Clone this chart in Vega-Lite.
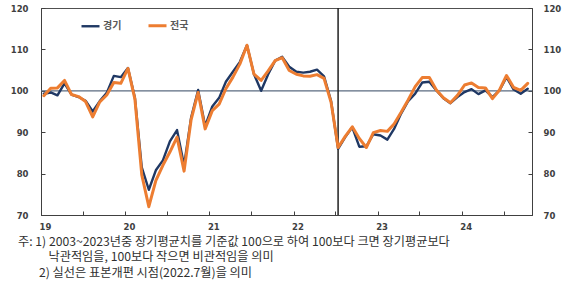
{
  "$schema": "https://vega.github.io/schema/vega-lite/v6.json",
  "width": 491,
  "height": 207,
  "autosize": {"type": "none"},
  "padding": {"left": 41, "top": 8, "right": 38, "bottom": 67},
  "background": "white",
  "config": {
    "view": {"stroke": "#505050", "strokeWidth": 1},
    "axis": {
      "labelFont": "DejaVu Sans",
      "labelFontWeight": "bold",
      "labelFontSize": 8.5,
      "labelColor": "#404040",
      "domainColor": "#404040",
      "tickColor": "#404040",
      "tickSize": -4,
      "grid": false,
      "title": null
    }
  },
  "title": {
    "text": [
      "주: 1) 2003~2023년중 장기평균치를 기준값 100으로 하여 100보다 크면 장기평균보다",
      "\u200b\u3000\u3000\u2002낙관적임을, 100보다 작으면 비관적임을 의미",
      "\u200b\u3000\u2002 2) 실선은 표본개편 시점(2022.7월)을 의미"
    ],
    "orient": "bottom",
    "anchor": "start",
    "frame": "group",
    "dx": -23,
    "offset": 5,
    "font": "Noto Sans CJK KR",
    "fontSize": 12.2,
    "fontWeight": "normal",
    "color": "#303030",
    "lineHeight": 15.5
  },
  "layer": [
    {
      "data": {"values": [{"v": 100}]},
      "mark": {"type": "rule", "color": "#5B6B80", "strokeWidth": 1.2},
      "encoding": {
        "y": {
          "field": "v",
          "type": "quantitative",
          "scale": {"domain": [70, 120], "nice": false, "zero": false},
          "axis": {"orient": "right", "values": [70, 80, 90, 100, 110, 120], "labelPadding": 15}
        }
      }
    },
    {
      "data": {"values": [{"d": "2022-07"}]},
      "mark": {"type": "rule", "color": "#202020", "strokeWidth": 1.5},
      "encoding": {
        "x": {
          "field": "d",
          "type": "temporal",
          "timeUnit": "yearmonth",
          "bandPosition": 0.4
        }
      }
    },
    {
      "data": {
        "values": [
          {"d": "2019-01", "r": "경기", "v": 99.3}, {"d": "2019-02", "r": "경기", "v": 99.6}, {"d": "2019-03", "r": "경기", "v": 98.9}, {"d": "2019-04", "r": "경기", "v": 101.8},
          {"d": "2019-05", "r": "경기", "v": 99.1}, {"d": "2019-06", "r": "경기", "v": 98.5}, {"d": "2019-07", "r": "경기", "v": 97.6}, {"d": "2019-08", "r": "경기", "v": 95.0},
          {"d": "2019-09", "r": "경기", "v": 97.5}, {"d": "2019-10", "r": "경기", "v": 99.5}, {"d": "2019-11", "r": "경기", "v": 103.6}, {"d": "2019-12", "r": "경기", "v": 103.3},
          {"d": "2020-01", "r": "경기", "v": 105.5}, {"d": "2020-02", "r": "경기", "v": 98.3}, {"d": "2020-03", "r": "경기", "v": 81.5}, {"d": "2020-04", "r": "경기", "v": 76.1},
          {"d": "2020-05", "r": "경기", "v": 80.8}, {"d": "2020-06", "r": "경기", "v": 83.2}, {"d": "2020-07", "r": "경기", "v": 87.8}, {"d": "2020-08", "r": "경기", "v": 90.5},
          {"d": "2020-09", "r": "경기", "v": 82.0}, {"d": "2020-10", "r": "경기", "v": 93.5}, {"d": "2020-11", "r": "경기", "v": 100.2}, {"d": "2020-12", "r": "경기", "v": 91.5},
          {"d": "2021-01", "r": "경기", "v": 96.2}, {"d": "2021-02", "r": "경기", "v": 98.3}, {"d": "2021-03", "r": "경기", "v": 102.2}, {"d": "2021-04", "r": "경기", "v": 104.6},
          {"d": "2021-05", "r": "경기", "v": 107.0}, {"d": "2021-06", "r": "경기", "v": 111.0}, {"d": "2021-07", "r": "경기", "v": 104.0}, {"d": "2021-08", "r": "경기", "v": 100.0},
          {"d": "2021-09", "r": "경기", "v": 104.0}, {"d": "2021-10", "r": "경기", "v": 107.3}, {"d": "2021-11", "r": "경기", "v": 108.2}, {"d": "2021-12", "r": "경기", "v": 105.8},
          {"d": "2022-01", "r": "경기", "v": 104.6}, {"d": "2022-02", "r": "경기", "v": 104.4}, {"d": "2022-03", "r": "경기", "v": 104.6}, {"d": "2022-04", "r": "경기", "v": 105.1},
          {"d": "2022-05", "r": "경기", "v": 103.5}, {"d": "2022-06", "r": "경기", "v": 97.5}, {"d": "2022-07", "r": "경기", "v": 86.0}, {"d": "2022-08", "r": "경기", "v": 88.8},
          {"d": "2022-09", "r": "경기", "v": 91.2}, {"d": "2022-10", "r": "경기", "v": 86.5}, {"d": "2022-11", "r": "경기", "v": 86.6}, {"d": "2022-12", "r": "경기", "v": 89.5},
          {"d": "2023-01", "r": "경기", "v": 89.2}, {"d": "2023-02", "r": "경기", "v": 88.2}, {"d": "2023-03", "r": "경기", "v": 90.8}, {"d": "2023-04", "r": "경기", "v": 94.5},
          {"d": "2023-05", "r": "경기", "v": 97.5}, {"d": "2023-06", "r": "경기", "v": 99.3}, {"d": "2023-07", "r": "경기", "v": 102.0}, {"d": "2023-08", "r": "경기", "v": 102.2},
          {"d": "2023-09", "r": "경기", "v": 100.1}, {"d": "2023-10", "r": "경기", "v": 98.2}, {"d": "2023-11", "r": "경기", "v": 97.0}, {"d": "2023-12", "r": "경기", "v": 98.5},
          {"d": "2024-01", "r": "경기", "v": 99.7}, {"d": "2024-02", "r": "경기", "v": 100.4}, {"d": "2024-03", "r": "경기", "v": 99.2}, {"d": "2024-04", "r": "경기", "v": 100.1},
          {"d": "2024-05", "r": "경기", "v": 98.5}, {"d": "2024-06", "r": "경기", "v": 100.1}, {"d": "2024-07", "r": "경기", "v": 103.3}, {"d": "2024-08", "r": "경기", "v": 100.3},
          {"d": "2024-09", "r": "경기", "v": 99.3}, {"d": "2024-10", "r": "경기", "v": 100.5},
          {"d": "2019-01", "r": "전국", "v": 98.8}, {"d": "2019-02", "r": "전국", "v": 100.6}, {"d": "2019-03", "r": "전국", "v": 100.7}, {"d": "2019-04", "r": "전국", "v": 102.5},
          {"d": "2019-05", "r": "전국", "v": 99.1}, {"d": "2019-06", "r": "전국", "v": 98.6}, {"d": "2019-07", "r": "전국", "v": 97.4}, {"d": "2019-08", "r": "전국", "v": 93.7},
          {"d": "2019-09", "r": "전국", "v": 97.3}, {"d": "2019-10", "r": "전국", "v": 99.0}, {"d": "2019-11", "r": "전국", "v": 102.0}, {"d": "2019-12", "r": "전국", "v": 101.8},
          {"d": "2020-01", "r": "전국", "v": 105.4}, {"d": "2020-02", "r": "전국", "v": 98.0}, {"d": "2020-03", "r": "전국", "v": 79.7}, {"d": "2020-04", "r": "전국", "v": 72.0},
          {"d": "2020-05", "r": "전국", "v": 78.3}, {"d": "2020-06", "r": "전국", "v": 82.0}, {"d": "2020-07", "r": "전국", "v": 85.2}, {"d": "2020-08", "r": "전국", "v": 88.8},
          {"d": "2020-09", "r": "전국", "v": 80.6}, {"d": "2020-10", "r": "전국", "v": 93.0}, {"d": "2020-11", "r": "전국", "v": 99.6}, {"d": "2020-12", "r": "전국", "v": 90.8},
          {"d": "2021-01", "r": "전국", "v": 95.2}, {"d": "2021-02", "r": "전국", "v": 96.8}, {"d": "2021-03", "r": "전국", "v": 100.5}, {"d": "2021-04", "r": "전국", "v": 103.3},
          {"d": "2021-05", "r": "전국", "v": 106.5}, {"d": "2021-06", "r": "전국", "v": 111.0}, {"d": "2021-07", "r": "전국", "v": 104.0}, {"d": "2021-08", "r": "전국", "v": 102.5},
          {"d": "2021-09", "r": "전국", "v": 104.8}, {"d": "2021-10", "r": "전국", "v": 107.3}, {"d": "2021-11", "r": "전국", "v": 108.0}, {"d": "2021-12", "r": "전국", "v": 104.9},
          {"d": "2022-01", "r": "전국", "v": 104.0}, {"d": "2022-02", "r": "전국", "v": 103.6}, {"d": "2022-03", "r": "전국", "v": 103.5}, {"d": "2022-04", "r": "전국", "v": 103.9},
          {"d": "2022-05", "r": "전국", "v": 103.0}, {"d": "2022-06", "r": "전국", "v": 97.2}, {"d": "2022-07", "r": "전국", "v": 86.3}, {"d": "2022-08", "r": "전국", "v": 89.0},
          {"d": "2022-09", "r": "전국", "v": 91.3}, {"d": "2022-10", "r": "전국", "v": 88.5}, {"d": "2022-11", "r": "전국", "v": 86.3}, {"d": "2022-12", "r": "전국", "v": 89.9},
          {"d": "2023-01", "r": "전국", "v": 90.4}, {"d": "2023-02", "r": "전국", "v": 90.2}, {"d": "2023-03", "r": "전국", "v": 92.0}, {"d": "2023-04", "r": "전국", "v": 94.8},
          {"d": "2023-05", "r": "전국", "v": 97.8}, {"d": "2023-06", "r": "전국", "v": 101.0}, {"d": "2023-07", "r": "전국", "v": 103.2}, {"d": "2023-08", "r": "전국", "v": 103.2},
          {"d": "2023-09", "r": "전국", "v": 100.2}, {"d": "2023-10", "r": "전국", "v": 98.3}, {"d": "2023-11", "r": "전국", "v": 97.1}, {"d": "2023-12", "r": "전국", "v": 98.9},
          {"d": "2024-01", "r": "전국", "v": 101.4}, {"d": "2024-02", "r": "전국", "v": 101.9}, {"d": "2024-03", "r": "전국", "v": 100.8}, {"d": "2024-04", "r": "전국", "v": 100.7},
          {"d": "2024-05", "r": "전국", "v": 98.1}, {"d": "2024-06", "r": "전국", "v": 100.2}, {"d": "2024-07", "r": "전국", "v": 103.7}, {"d": "2024-08", "r": "전국", "v": 100.8},
          {"d": "2024-09", "r": "전국", "v": 100.1}, {"d": "2024-10", "r": "전국", "v": 101.8}
        ]
      },
      "mark": {"type": "line", "strokeJoin": "round", "strokeCap": "round"},
      "encoding": {
        "x": {
          "field": "d",
          "type": "temporal",
          "timeUnit": "yearmonth",
          "bandPosition": 0.4,
          "scale": {"domain": [{"year": 2019, "month": 1, "date": 1}, {"year": 2024, "month": 11, "date": 1}], "nice": false},
          "axis": {
            "tickCount": {"interval": "month", "step": 6},
            "labelExpr": "month(datum.value) === 0 ? timeFormat(datum.value, '%y') : ''",
            "labelAlign": "left",
            "labelOffset": -2,
            "labelPadding": 11
          }
        },
        "y": {
          "field": "v",
          "type": "quantitative",
          "scale": {"domain": [70, 120], "nice": false, "zero": false},
          "axis": {"orient": "left", "values": [70, 80, 90, 100, 110, 120], "labelPadding": 17}
        },
        "color": {
          "field": "r",
          "type": "nominal",
          "scale": {"domain": ["경기", "전국"], "range": ["#1F3864", "#ED7D31"]},
          "legend": {
            "title": null,
            "orient": "none",
            "legendX": 39,
            "legendY": 7,
            "direction": "horizontal",
            "symbolType": "stroke",
            "symbolSize": 324,
            "symbolStrokeWidth": 2.5,
            "labelFont": "Noto Sans CJK KR",
            "labelFontSize": 10,
            "labelFontWeight": "bold",
            "labelColor": "#595959",
            "labelOffset": 2,
            "columnPadding": 20,
            "padding": 0
          }
        },
        "strokeWidth": {
          "field": "r",
          "type": "nominal",
          "scale": {"domain": ["경기", "전국"], "range": [2.4, 3]},
          "legend": null
        }
      }
    }
  ],
  "resolve": {"scale": {"y": "independent"}, "axis": {"y": "independent"}}
}
